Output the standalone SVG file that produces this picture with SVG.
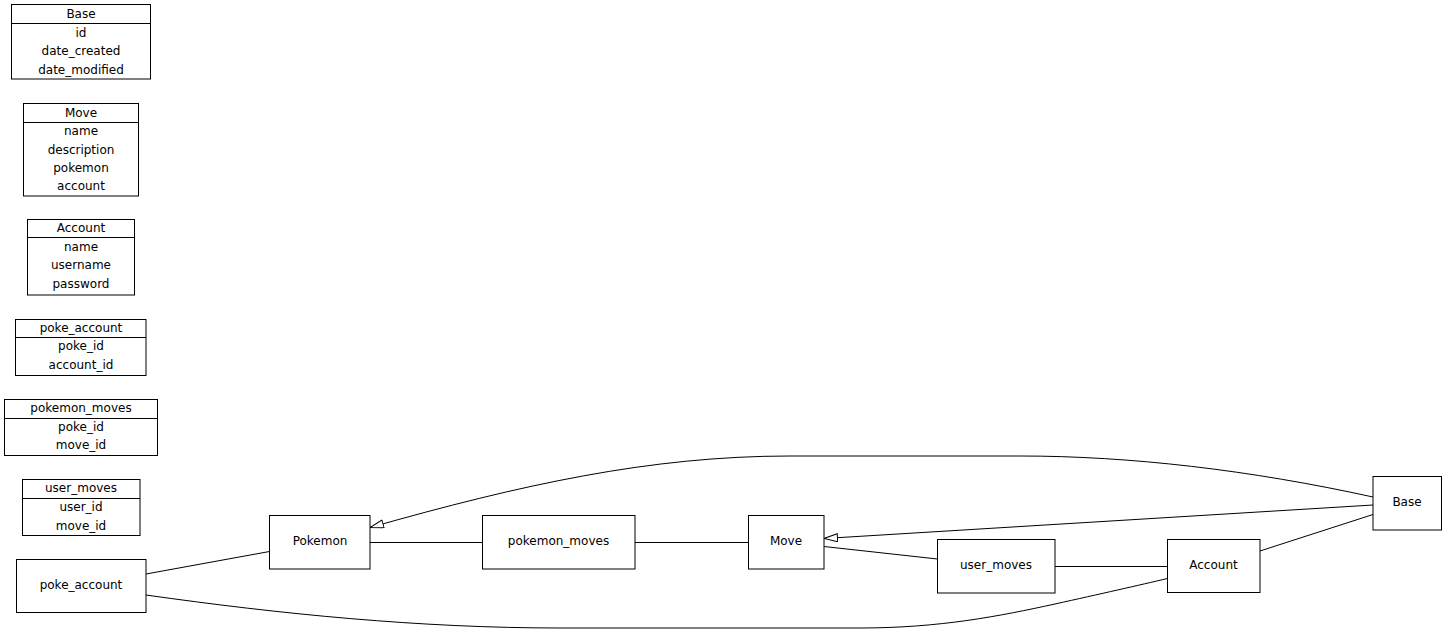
<svg xmlns="http://www.w3.org/2000/svg" width="1448" height="634" viewBox="0 0 1448 634">
<style>
rect{fill:#fff;stroke:#000;stroke-width:1}
.sep{stroke:#000;stroke-width:1}
text{font-family:"DejaVu Sans",sans-serif;font-size:12px;text-anchor:middle;dominant-baseline:central;fill:#000}
.e{fill:none;stroke:#000;stroke-width:1}
</style>
<defs>
<marker id="tri" markerUnits="userSpaceOnUse" markerWidth="16" markerHeight="10" refX="14" refY="4.5" orient="auto">
<path d="M0.5,0.5 L14,4.5 L0.5,8.5 Z" fill="#fff" stroke="#000" stroke-width="1"/>
</marker>
</defs>
<g id="tbl-base">
<rect x="11.5" y="4.5" width="139" height="74.5"/>
<line class="sep" x1="11.5" y1="23.5" x2="150.5" y2="23.5"/>
<text x="81" y="13.5">Base</text>
<text x="81" y="32.5">id</text>
<text x="81" y="51">date_created</text>
<text x="81" y="69.5">date_modified</text>
</g>
<g id="tbl-move">
<rect x="23.5" y="103.5" width="115" height="92.5"/>
<line class="sep" x1="23.5" y1="122.5" x2="138.5" y2="122.5"/>
<text x="81" y="112.5">Move</text>
<text x="81" y="131">name</text>
<text x="81" y="149.5">description</text>
<text x="81" y="167.5">pokemon</text>
<text x="81" y="186">account</text>
</g>
<g id="tbl-account">
<rect x="27.5" y="219.5" width="107" height="75.5"/>
<line class="sep" x1="27.5" y1="237.5" x2="134.5" y2="237.5"/>
<text x="81" y="228">Account</text>
<text x="81" y="246.5">name</text>
<text x="81" y="265">username</text>
<text x="81" y="284">password</text>
</g>
<g id="tbl-poke_account">
<rect x="15.5" y="319.5" width="130.5" height="56"/>
<line class="sep" x1="15.5" y1="337.5" x2="146" y2="337.5"/>
<text x="81" y="327.5">poke_account</text>
<text x="81" y="346">poke_id</text>
<text x="81" y="365">account_id</text>
</g>
<g id="tbl-pokemon_moves">
<rect x="4.5" y="399.5" width="153" height="56"/>
<line class="sep" x1="4.5" y1="418.5" x2="157.5" y2="418.5"/>
<text x="81" y="408">pokemon_moves</text>
<text x="81" y="426.5">poke_id</text>
<text x="81" y="445">move_id</text>
</g>
<g id="tbl-user_moves">
<rect x="22.5" y="479.5" width="117.5" height="56"/>
<line class="sep" x1="22.5" y1="498.5" x2="140" y2="498.5"/>
<text x="81" y="488">user_moves</text>
<text x="81" y="506.5">user_id</text>
<text x="81" y="525.5">move_id</text>
</g>
<g id="edges">
<path class="e" d="M146,574 L269.5,551.5"/>
<path class="e" d="M146,595 C280,614 420,628 560,628 L860,628 C940,628 1000,616 1055,604 C1100,594 1140,585 1167.5,578.5"/>
<path class="e" d="M370,542.5 L482.5,542.5"/>
<path class="e" d="M635,542.5 L748.5,542.5"/>
<path class="e" d="M824,546.5 L937.5,559"/>
<path class="e" d="M1055,566.5 L1167.5,566.5"/>
<path class="e" d="M1260,551 L1373,514.5"/>
<path class="e" d="M1373,505 L824,538.5" marker-end="url(#tri)"/>
<path class="e" d="M1373,497 C1250,470 1130,456 1020,456 L790,456 C650,456 520,485 370,527.5" marker-end="url(#tri)"/>
</g>
<g id="node-poke_account">
<rect x="16.5" y="559.5" width="129.5" height="53"/>
<text x="81" y="585">poke_account</text>
</g>
<g id="node-pokemon">
<rect x="269.5" y="515.5" width="100.5" height="53.5"/>
<text x="320" y="541">Pokemon</text>
</g>
<g id="node-pokemon_moves">
<rect x="482.5" y="515.5" width="152.5" height="53.5"/>
<text x="558.5" y="541">pokemon_moves</text>
</g>
<g id="node-move">
<rect x="748.5" y="515.5" width="75.5" height="53.5"/>
<text x="786" y="541">Move</text>
</g>
<g id="node-user_moves">
<rect x="937.5" y="539.5" width="117.5" height="53.5"/>
<text x="996" y="565">user_moves</text>
</g>
<g id="node-account">
<rect x="1167.5" y="539.5" width="92.5" height="53"/>
<text x="1213.5" y="565">Account</text>
</g>
<g id="node-base">
<rect x="1373" y="476.5" width="68.5" height="53.5"/>
<text x="1407" y="502">Base</text>
</g>
</svg>
